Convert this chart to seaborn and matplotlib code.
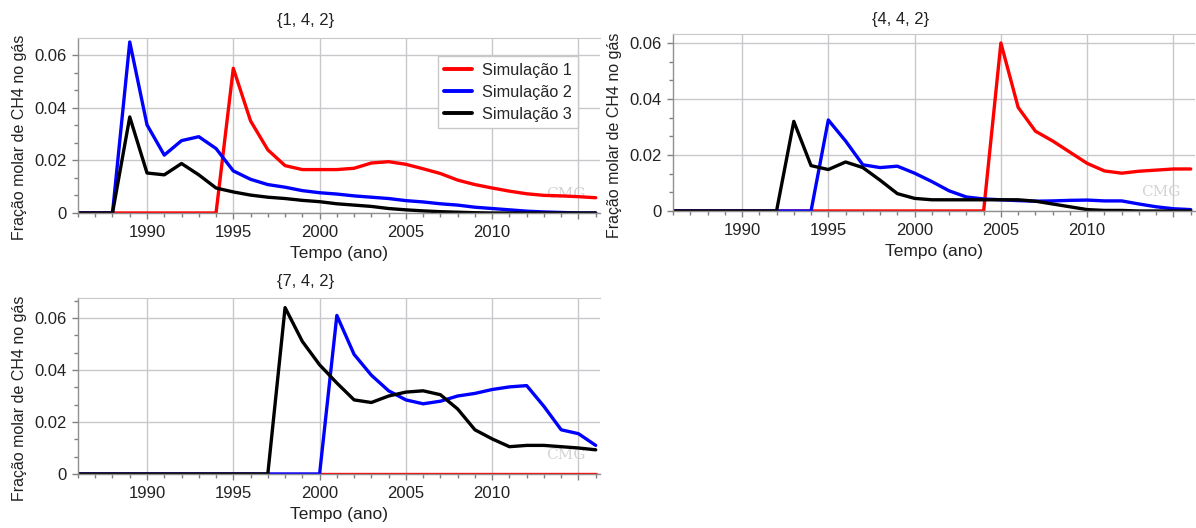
import pandas as pd
import matplotlib.pyplot as plt
import matplotlib.ticker as mticker
import seaborn as sns

# dados (fração molar de CH4 no gás, por ano)
anos = list(range(1986, 2017))
series = ["Simulação 1", "Simulação 2", "Simulação 3"]
cores = ["#ff0000", "#0000ff", "#000000"]
titulos = ["{1, 4, 2}", "{4, 4, 2}", "{7, 4, 2}"]

# {1, 4, 2}
p1_sim1 = [0, 0, 0, 0, 0, 0, 0, 0, 0,
           0.055, 0.035, 0.024, 0.018, 0.0165, 0.0165, 0.0165, 0.017, 0.019, 0.0195, 0.0185,
           0.0168, 0.015, 0.0125, 0.0108, 0.0095, 0.0083, 0.0073, 0.0067, 0.0065, 0.0062, 0.0058]
p1_sim2 = [0, 0, 0,
           0.065, 0.0335, 0.022, 0.0275, 0.029, 0.0245, 0.016, 0.0128, 0.0108, 0.0098, 0.0085,
           0.0077, 0.0072, 0.0065, 0.006, 0.0055, 0.0047, 0.0042, 0.0035, 0.003, 0.0022, 0.0017,
           0.0012, 0.0007, 0.0004, 0.0002, 0, 0]
p1_sim3 = [0, 0, 0,
           0.0365, 0.0152, 0.0145, 0.0188, 0.0145, 0.0095, 0.008, 0.0068, 0.006, 0.0055, 0.0048,
           0.0043, 0.0035, 0.003, 0.0025, 0.0017, 0.0012, 0.0008, 0.0005, 0.0003, 0.0001,
           0, 0, 0, 0, 0, 0, 0]

# {4, 4, 2}
p2_sim1 = [0] * 19 + [0.060, 0.037, 0.0285, 0.025, 0.021, 0.017, 0.0143, 0.0135, 0.0142,
                      0.0146, 0.015, 0.015]
p2_sim2 = [0] * 9 + [0.0325, 0.025, 0.0165, 0.0155, 0.016, 0.0135, 0.0105, 0.0072, 0.005,
                     0.0043, 0.004, 0.0037, 0.0035, 0.0036, 0.0038, 0.0039, 0.0036, 0.0036,
                     0.0025, 0.0015, 0.0008, 0.0005]
p2_sim3 = [0] * 7 + [0.032, 0.0162, 0.0148, 0.0175, 0.0155, 0.011, 0.0062, 0.0045, 0.004,
                     0.004, 0.004, 0.004, 0.004, 0.004, 0.0035, 0.0025, 0.0015, 0.0005, 0.0002,
                     0.0002, 0, 0, 0, 0]

# {7, 4, 2}
p3_sim1 = [0] * 31
p3_sim2 = [0] * 15 + [0.061, 0.046, 0.038, 0.032, 0.0285, 0.027, 0.028, 0.030, 0.031, 0.0325,
                      0.0335, 0.034, 0.026, 0.017, 0.0155, 0.011]
p3_sim3 = [0] * 12 + [0.064, 0.051, 0.042, 0.035, 0.0285, 0.0275, 0.030, 0.0315, 0.032, 0.0305,
                      0.025, 0.017, 0.0135, 0.0105, 0.011, 0.011, 0.0105, 0.010, 0.0093]

paineis = [(p1_sim1, p1_sim2, p1_sim3), (p2_sim1, p2_sim2, p2_sim3), (p3_sim1, p3_sim2, p3_sim3)]

sns.set_style("white")
plt.rcParams['font.family'] = ['Liberation Sans', 'DejaVu Sans']

fig = plt.figure(figsize=(11.96, 5.28), dpi=100)
# [esq, baixo, larg, alt], ylim topo, altura do título
posicoes = [([0.0652, 0.5966, 0.4365, 0.3314], 0.0665, 1.06),
            ([0.5627, 0.6004, 0.4365, 0.3352], 0.0632, 1.04),
            ([0.0652, 0.1023, 0.4365, 0.3333], 0.0677, 1.05)]

for i, (vals, (pos, ytop, ytit)) in enumerate(zip(paineis, posicoes)):
    ax = fig.add_axes(pos)
    df = pd.DataFrame({
        "Ano": anos * 3,
        "Fração": vals[0] + vals[1] + vals[2],
        "Série": [s for s in series for _ in anos],
    })
    sns.lineplot(data=df, x="Ano", y="Fração", hue="Série", hue_order=series,
                 palette=cores, linewidth=2.4, ax=ax, legend=(i == 0))
    ax.set_xlim(1986, 2016.25)
    ax.set_ylim(0, ytop)

    ax.xaxis.set_major_locator(mticker.FixedLocator([1990, 1995, 2000, 2005, 2010, 2015]))
    ax.xaxis.set_major_formatter(mticker.FixedFormatter(["1990", "1995", "2000", "2005", "2010", ""]))
    ax.xaxis.set_minor_locator(mticker.MultipleLocator(1))
    ax.yaxis.set_major_locator(mticker.FixedLocator([0, 0.02, 0.04, 0.06]))
    ax.yaxis.set_major_formatter(mticker.FixedFormatter(["0", "0.02", "0.04", "0.06"]))
    ax.yaxis.set_minor_locator(mticker.AutoMinorLocator(3))

    ax.grid(True, which="major", color="#c8c8cc", linewidth=1)
    ax.set_axisbelow(True)
    ax.tick_params(which="both", direction="out", color="#808080", labelsize=12,
                   labelcolor="#222222")
    ax.tick_params(axis="x", which="major", length=4, width=1, bottom=True, pad=5)
    ax.tick_params(axis="x", which="minor", length=3, width=1, bottom=True)
    ax.tick_params(axis="y", which="major", length=4, width=1, left=True, pad=4)
    ax.tick_params(axis="y", which="minor", length=3, width=1, left=True)
    for lado in ["left", "bottom"]:
        ax.spines[lado].set_color("#909090")
        ax.spines[lado].set_linewidth(1)
    ax.spines["top"].set_color("#c8c8cc")
    ax.spines["right"].set_visible(False)

    ax.set_xlabel("Tempo (ano)", fontsize=12.5, color="#222222", labelpad=4)
    ax.set_ylabel("Fração molar de CH4 no gás", fontsize=11.5, color="#222222")
    ax.yaxis.set_label_coords(-0.098, 0.43)
    ax.text(0.435, ytit, titulos[i], transform=ax.transAxes, ha="center", va="bottom",
            fontsize=12, color="#222222")
    # marca d'água
    ax.text(0.935, 0.07, "CMG", transform=ax.transAxes, ha="center", va="bottom",
            fontsize=11, color="#d4d4d4", family="DejaVu Serif", zorder=0)

    if i == 0:
        leg = ax.legend(loc="upper right", bbox_to_anchor=(0.958, 0.895), fontsize=11.7,
                        frameon=True, fancybox=False, framealpha=1, edgecolor="#c8c8c8",
                        handlelength=1.7, handletextpad=0.6, borderpad=0.4,
                        labelspacing=0.42, borderaxespad=0, title=None)
        for ln in leg.get_lines():
            ln.set_linewidth(2.8)

fig.savefig("out.png", dpi=100)
